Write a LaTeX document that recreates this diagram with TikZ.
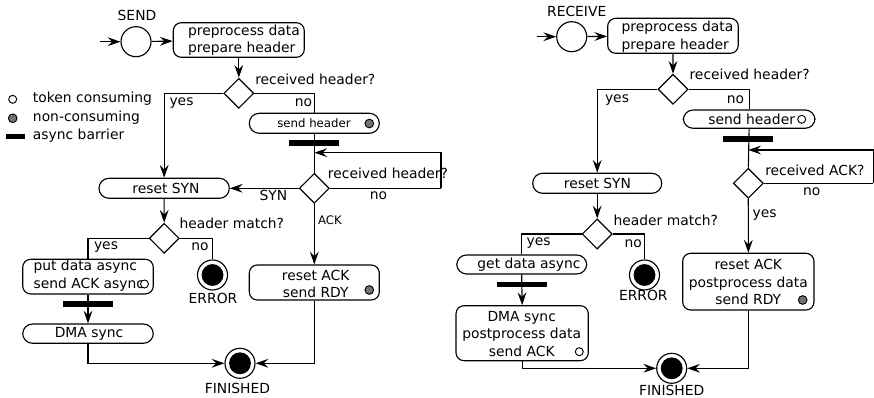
\documentclass[tikz,border=0pt]{standalone}
\usepackage{fontspec}
\setmainfont{DejaVu Sans}
\usetikzlibrary{shapes.geometric,arrows.meta,fit}
\newcommand{\mainsz}{\fontsize{10.4}{13.2}\selectfont}
\newcommand{\smallsz}{\fontsize{8.8}{10.6}\selectfont}
\tikzset{
  every node/.style={font=\mainsz},
  ln/.style={line width=0.85pt},
  arr/.style={ln, -{Stealth[length=9.6pt,width=6.6pt,inset=3.4pt]}},
  act/.style={draw, ln, rounded corners=6pt, inner sep=0pt},
  pill/.style={draw, ln, rounded corners=7.4pt, inner sep=0pt},
  dec/.style={diamond, draw, ln, fill=white, minimum width=22.5pt, minimum height=22.5pt, inner sep=0pt},
  startnode/.style={circle, draw, ln, minimum size=22.5pt, inner sep=0pt},
  endnode/.style={circle, draw, ln, minimum size=22.5pt, inner sep=0pt,
    path picture={\fill (path picture bounding box.center) circle (8.2pt);}},
  barrier/.style={fill=black, minimum width=37.5pt, minimum height=4.3pt, inner sep=0pt},
  tokc/.style={circle, draw, line width=0.7pt, fill=white, minimum size=6pt, inner sep=0pt},
  ncons/.style={circle, draw, line width=0.7pt, fill=black!55, minimum size=6.5pt, inner sep=0pt},
  lbl/.style={inner sep=0pt},
  sm/.style={inner sep=0pt, font=\smallsz},
}
\begin{document}
\begin{tikzpicture}[x=0.75pt, y=-0.75pt]
\path[use as bounding box] (0,0) rectangle (874,398);

% ---------------- legend ----------------
\node[tokc] (legtok) at (12.7,99.3) {};
\node[lbl, anchor=west] (legtokt) at (32.7,99) {token consuming};
\node[ncons] (legnc) at (12.7,118.3) {};
\node[lbl, anchor=west] (legnct) at (32.7,118) {non-consuming};
\node[fill=black, minimum width=14.3pt, minimum height=4.1pt, inner sep=0pt] (legbar) at (15.5,136.7) {};
\node[lbl, anchor=west] (legbart) at (32.7,136) {async barrier};

% ---------------- SEND ----------------
\node[lbl] (sendt) at (137,15) {SEND};
\coordinate (in1) at (100,41.7);
\node[startnode] (start1) at (136,41.7) {};
\node[act, fit={(173.3,22.7) (304.3,57.3)}] (prep1) {};
\node[lbl, align=left] (prep1t) at (244,40) {preprocess data\\prepare header};
\node[dec] (d1) at (238.8,93.3) {};
\node[lbl, anchor=west] (q1) at (255,79) {received header?};
\node[lbl] (yes1) at (181.5,103) {yes};
\node[lbl] (no1) at (303.5,103) {no};

\node[pill, fit={(249.3,113.3) (379.3,133.3)}] (sh1) {};
\node[sm] (sh1t) at (314,123) {send header};
\node[ncons] (sh1m) at (369.3,123.5) {};
\node[barrier] (bar1) at (314.3,142.8) {};
\coordinate (j1) at (314.3,152.7);
\coordinate (loop1) at (441,188.3);
\node[dec] (d2) at (314.3,188.3) {};
\node[lbl, anchor=west] (q2) at (327.7,173.3) {received header?};
\node[lbl] (no2) at (378.5,195.5) {no};
\node[lbl] (syn1) at (273.5,195.5) {SYN};
\node[sm] (ack1) at (330,220) {ACK};

\node[pill, fit={(99,178.3) (229.3,198.3)}] (rsyn1) {};
\node[lbl] (rsyn1t) at (166,188.3) {reset SYN};
\node[dec] (d3) at (164.2,238.3) {};
\node[lbl, anchor=west] (q3) at (179.3,223.3) {header match?};
\node[lbl] (yes3) at (106,246.7) {yes};
\node[lbl] (no3) at (200,246.7) {no};
\node[endnode] (err1) at (212.5,275) {};
\node[lbl] (err1t) at (213,298.3) {ERROR};

\node[act, fit={(22.7,259.3) (153.3,294)}] (pd1) {};
\node[lbl, align=left, anchor=west] (pd1t) at (33.3,275.8) {put data async\\send ACK async};
\node[tokc] (pd1m) at (144.5,284) {};
\node[barrier] (bar2) at (88,303.8) {};
\node[pill, fit={(22.7,324) (153.3,343.3)}] (dma1) {};
\node[lbl] (dma1t) at (89,333.8) {DMA sync};

\node[act, fit={(249.3,265) (379.3,300)}] (rack1) {};
\node[lbl, align=center] (rack1t) at (315.7,283.8) {reset ACK\\send RDY};
\node[ncons] (rack1m) at (369.3,290) {};

\node[endnode] (fin1) at (240,363.3) {};
\node[lbl] (fin1t) at (237.5,388) {FINISHED};

% connectors (SEND)
\draw[arr] (in1) -- (start1);
\draw[arr] (start1) -- (prep1);
\draw[arr] (prep1) -- (d1);
\draw[arr] (d1.west) -| (rsyn1.north);
\draw[ln] (d1.east) -| (sh1.north);
\draw[ln] (sh1.south) -- (d2.north);
\draw[ln] (d2.east) -- (loop1);
\draw[arr] (loop1) |- (j1);
\draw[arr] (d2.west) -- (rsyn1.east);
\draw[arr] (d2.south) -- (rack1.north);
\draw[arr] (rsyn1.south) -- (d3.north);
\draw[ln] (d3.west) -| (pd1.north);
\draw[ln] (d3.east) -| (err1.north);
\draw[arr] (pd1.south) -- (dma1.north);
\draw[arr] (dma1.south) |- (fin1.west);
\draw[arr] (rack1.south) |- (fin1.east);
\node[barrier] at (bar1) {};
\node[barrier] at (bar2) {};

% ---------------- RECEIVE ----------------
\node[lbl] (recvt) at (576.7,11) {RECEIVE};
\coordinate (in2) at (536.7,36.7);
\node[startnode] (start2) at (571.7,36.7) {};
\node[act, fit={(607.7,18.3) (738.3,53.3)}] (prep2) {};
\node[lbl, align=left] (prep2t) at (677.5,36.5) {preprocess data\\prepare header};
\node[dec] (d4) at (673,89.3) {};
\node[lbl, anchor=west] (q4) at (689.3,74) {received header?};
\node[lbl] (yes4) at (617,100) {yes};
\node[lbl] (no4) at (735.5,100) {no};

\node[pill, fit={(683.3,110) (815,128.3)}] (sh2) {};
\node[lbl] (sh2t) at (751.7,119.3) {send header};
\node[tokc] (sh2m) at (801.7,119.3) {};
\node[barrier] (bar3) at (748.3,138.8) {};
\coordinate (j2) at (748.3,150);
\coordinate (loop2) at (873.3,183.3);
\node[dec] (d5) at (748.3,183.3) {};
\node[lbl, anchor=west] (q5) at (765,170) {received ACK?};
\node[lbl] (no5) at (811.7,191.7) {no};
\node[lbl] (yes5) at (764.7,215) {yes};

\node[pill, fit={(532.7,173.3) (661.7,193.3)}] (rsyn2) {};
\node[lbl] (rsyn2t) at (597.5,183.3) {reset SYN};
\node[dec] (d6) at (597.2,234) {};
\node[lbl, anchor=west] (q6) at (613.3,220) {header match?};
\node[lbl] (yes6) at (538.7,243.3) {yes};
\node[lbl] (no6) at (633.3,243.3) {no};
\node[endnode] (err2) at (644.5,275) {};
\node[lbl] (err2t) at (643.3,295) {ERROR};

\node[pill, fit={(456.7,255) (586.7,274)}] (gd) {};
\node[lbl] (gdt) at (529,264.5) {get data async};
\node[barrier] (bar4) at (522.3,284.5) {};
\node[act, fit={(456,305.7) (588.3,360.7)}] (dma2) {};
\node[lbl, align=center] (dma2t) at (521.7,334) {DMA sync\\postprocess data\\send ACK};
\node[tokc] (dma2m) at (579.3,351.7) {};

\node[act, fit={(682.7,253.3) (814,310)}] (rack2) {};
\node[lbl, align=center] (rack2t) at (748.3,282.3) {reset ACK\\postprocess data\\send RDY};
\node[ncons] (rack2m) at (802.7,300) {};

\node[endnode] (fin2) at (671.7,368.3) {};
\node[lbl] (fin2t) at (671.7,390) {FINISHED};

% connectors (RECEIVE)
\draw[arr] (in2) -- (start2);
\draw[arr] (start2) -- (prep2);
\draw[arr] (prep2) -- (d4);
\draw[arr] (d4.west) -| (rsyn2.north);
\draw[ln] (d4.east) -| (sh2.north);
\draw[ln] (sh2.south) -- (d5.north);
\draw[ln] (d5.east) -- (loop2);
\draw[arr] (loop2) |- (j2);
\draw[arr] (d5.south) -- (rack2.north);
\draw[arr] (rsyn2.south) -- (d6.north);
\draw[ln] (d6.west) -| (gd.north);
\draw[ln] (d6.east) -| (err2.north);
\draw[arr] (gd.south) -- (dma2.north);
\draw[arr] (dma2.south) |- (fin2.west);
\draw[arr] (rack2.south) |- (fin2.east);
\node[barrier] at (bar3) {};
\node[barrier] at (bar4) {};
\end{tikzpicture}
\end{document}
